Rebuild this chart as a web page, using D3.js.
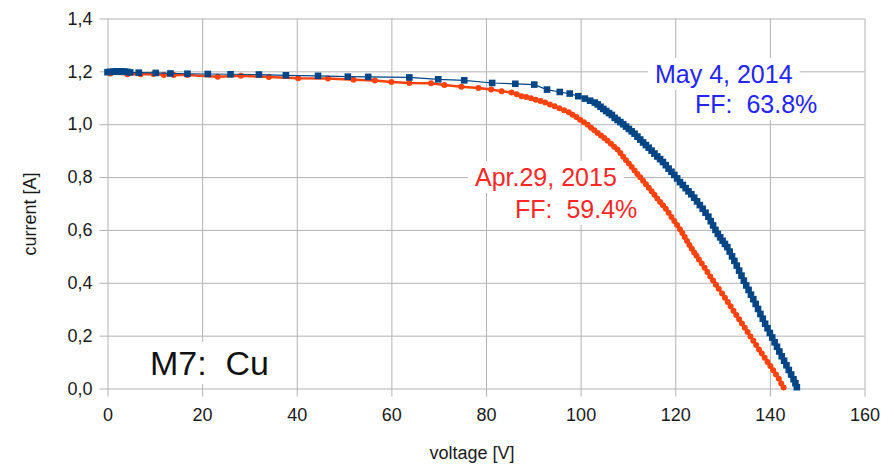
<!DOCTYPE html>
<html>
<head>
<meta charset="utf-8">
<script src="https://cdn.jsdelivr.net/npm/d3@7"></script>
<style>
  body { margin: 0; background: #fff; }
  text { font-family: "Liberation Sans", Arial, sans-serif; }
</style>
</head>
<body>
<svg id="chart" width="894" height="465"></svg>
<script>
'use strict';

// I-V curve, measured May 4, 2014  [voltage V, current A]
var may2014 = [
  [0.0,1.197],[0.6,1.198],[1.2,1.199],[1.8,1.200],[2.4,1.200],[3.0,1.200],[3.6,1.199],[4.2,1.198],
  [4.8,1.196],[6.6,1.195],[10.2,1.194],[13.3,1.192],[16.9,1.191],[21.2,1.190],[26.0,1.189],[32.0,1.188],
  [37.7,1.185],[44.5,1.183],[50.8,1.180],[55.1,1.179],[63.8,1.177],[69.9,1.170],[75.4,1.166],[81.3,1.156],
  [86.2,1.153],[90.2,1.150],[92.9,1.131],[95.6,1.122],[97.7,1.116],[99.5,1.106],[100.9,1.097],[102.0,1.089],
  [103.0,1.082],[103.6,1.075],[104.2,1.066],[104.8,1.058],[105.4,1.050],[106.0,1.042],[106.6,1.035],[107.2,1.024],
  [107.8,1.016],[108.4,1.008],[109.0,1.000],[109.6,0.991],[110.2,0.982],[110.8,0.973],[111.4,0.964],[112.0,0.953],
  [112.6,0.942],[113.2,0.931],[113.8,0.921],[114.4,0.911],[115.0,0.900],[115.6,0.889],[116.2,0.878],[116.8,0.868],
  [117.4,0.857],[118.0,0.845],[118.6,0.832],[119.2,0.820],[119.8,0.808],[120.4,0.795],[121.0,0.781],[121.6,0.770],
  [122.2,0.758],[122.8,0.746],[123.4,0.735],[124.0,0.722],[124.6,0.708],[125.2,0.694],[125.8,0.680],[126.4,0.665],
  [127.0,0.650],[127.5,0.633],[128.0,0.617],[128.5,0.600],[129.0,0.585],[129.5,0.572],[130.0,0.559],[130.5,0.547],
  [131.0,0.535],[131.5,0.518],[132.0,0.500],[132.5,0.483],[133.0,0.465],[133.5,0.446],[134.0,0.427],[134.5,0.408],
  [135.0,0.390],[135.5,0.373],[136.0,0.355],[136.5,0.338],[137.0,0.320],[137.5,0.301],[138.0,0.282],[138.5,0.264],
  [139.0,0.245],[139.5,0.228],[140.0,0.210],[140.5,0.193],[141.0,0.175],[141.5,0.158],[142.0,0.140],[142.5,0.122],
  [143.0,0.105],[143.5,0.088],[144.0,0.070],[144.5,0.053],[145.0,0.035],[145.4,0.020],[145.7,0.005]
]

// I-V curve, measured Apr.29, 2015
var apr2015 = [
  [0.6,1.192],[4.2,1.189],[7.0,1.189],[9.7,1.190],[11.9,1.186],[14.0,1.186],[16.9,1.186],[23.3,1.180],
  [28.2,1.183],[34.1,1.179],[40.3,1.174],[46.6,1.173],[52.0,1.168],[56.5,1.165],[60.0,1.160],[63.8,1.156],
  [68.4,1.155],[71.2,1.148],[74.8,1.142],[78.4,1.137],[81.1,1.131],[83.3,1.125],[85.4,1.120],[86.5,1.113],
  [87.5,1.106],[88.5,1.103],[89.5,1.098],[90.5,1.093],[91.5,1.088],[92.5,1.082],[93.5,1.075],[94.5,1.068],
  [95.5,1.060],[96.5,1.053],[97.5,1.045],[98.3,1.036],[99.1,1.027],[99.9,1.017],[100.7,1.007],[101.5,0.998],
  [102.2,0.987],[102.9,0.977],[103.6,0.967],[104.3,0.957],[105.0,0.948],[105.7,0.937],[106.4,0.926],[107.1,0.915],
  [107.8,0.904],[108.4,0.891],[109.0,0.877],[109.6,0.864],[110.2,0.851],[110.8,0.838],[111.4,0.825],[112.0,0.812],
  [112.6,0.799],[113.2,0.786],[113.8,0.773],[114.4,0.760],[115.0,0.746],[115.6,0.733],[116.2,0.719],[116.8,0.706],
  [117.4,0.693],[118.0,0.680],[118.6,0.665],[119.2,0.649],[119.8,0.634],[120.4,0.619],[121.0,0.603],[121.5,0.588],
  [122.0,0.573],[122.5,0.558],[123.0,0.543],[123.5,0.529],[124.0,0.515],[124.5,0.502],[125.0,0.488],[125.6,0.473],
  [126.2,0.457],[126.8,0.441],[127.4,0.424],[128.0,0.409],[128.6,0.393],[129.2,0.377],[129.9,0.359],[130.5,0.343],
  [131.1,0.327],[131.7,0.311],[132.3,0.294],[132.9,0.278],[133.5,0.262],[134.1,0.246],[134.7,0.230],[135.3,0.214],
  [135.9,0.197],[136.5,0.181],[137.1,0.165],[137.7,0.148],[138.3,0.132],[138.9,0.116],[139.5,0.100],[140.1,0.085],
  [140.7,0.069],[141.3,0.053],[141.9,0.037],[142.4,0.019],[142.9,0.004]
]

var xTicks = [0, 20, 40, 60, 80, 100, 120, 140, 160]
var yTicks = [0, 0.2, 0.4, 0.6, 0.8, 1.0, 1.2, 1.4]

// text lines drawn on white boxes: [text, x, baseline, colour, size]
var notes = [
  ['May 4, 2014', 655, 83, '#2424ff', 25],
  ['FF:  63.8%', 695, 113, '#2424ff', 25],
  ['Apr.29, 2015', 475, 186, '#ff2626', 25],
  ['FF:  59.4%', 515, 218, '#ff2626', 25],
  ['M7:  Cu', 150, 375, '#111', 34]
]

var svg = d3.select('#chart')
,   plotLeft = 107.5, plotRight = 864.5, plotTop = 18.5, plotBottom = 388.5
,   plotW = plotRight - plotLeft, plotH = plotBottom - plotTop
,   x = d3.scaleLinear().domain([0, 160]).range([plotLeft, plotRight])
,   y = d3.scaleLinear().domain([0, 1.4]).range([plotBottom, plotTop])
,   comma = d3.formatLocale({decimal: ',', thousands: '.', grouping: [3], currency: ['', '']}).format('.1f')
,   gridColor = '#b3b3b3'

// grid + axes: tick lines span the plot and stick out 8px
var xAxis = svg.append('g')
  .attr('transform', 'translate(0,' + plotTop + ')')
  .call(d3.axisBottom(x).tickValues(xTicks).tickSize(plotH + 8).tickPadding(12).tickFormat(d3.format('d')))

var yAxis = svg.append('g')
  .attr('transform', 'translate(' + plotRight + ',0)')
  .call(d3.axisLeft(y).tickValues(yTicks).tickSize(plotW + 8).tickPadding(7).tickFormat(comma))

;[xAxis, yAxis].forEach(function(ax) {
  ax.select('.domain').remove()
  ax.selectAll('.tick line').attr('stroke', gridColor).attr('stroke-width', 1)
  ax.selectAll('.tick text')
    .attr('fill', '#1a1a1a')
    .style('font-family', '"Liberation Sans", Arial, sans-serif')
    .style('font-size', '18px')
})

// axis titles
svg.append('text')
  .attr('x', 472).attr('y', 459)
  .attr('text-anchor', 'middle')
  .attr('fill', '#1a1a1a')
  .style('font-size', '18px')
  .text('voltage [V]')

svg.append('text')
  .attr('transform', 'translate(36,214) rotate(-90)')
  .attr('text-anchor', 'middle')
  .attr('fill', '#1a1a1a')
  .style('font-size', '18px')
  .text('current [A]')

// annotation boxes (white fill hides the grid behind the text)
var noteGroup = svg.append('g')

notes.forEach(function(n) {
  var g = noteGroup.append('g')
  var rect = g.append('rect').attr('fill', '#fff')
  var t = g.append('text')
    .attr('x', n[1]).attr('y', n[2])
    .attr('fill', n[3])
    .style('font-size', n[4] + 'px')
    .style('white-space', 'pre')
    .text(n[0])
  var bb = t.node().getBBox()
  rect.attr('x', bb.x - 7).attr('y', bb.y - 2)
    .attr('width', bb.width + 14).attr('height', bb.height + 4)
})

// series
var line = d3.line().x((d) => x(d[0])).y((d) => y(d[1]))

svg.append('path')
  .datum(apr2015)
  .attr('d', line)
  .attr('fill', 'none')
  .attr('stroke', '#ff420e')
  .attr('stroke-width', 2.5)
  .attr('stroke-linejoin', 'round')

svg.append('g').selectAll('circle')
  .data(apr2015)
  .enter().append('circle')
  .attr('cx', (d) => x(d[0]))
  .attr('cy', (d) => y(d[1]))
  .attr('r', 3)
  .attr('fill', '#ff420e')

svg.append('path')
  .datum(may2014)
  .attr('d', line)
  .attr('fill', 'none')
  .attr('stroke', '#004586')
  .attr('stroke-width', 1.2)

svg.append('g').selectAll('rect')
  .data(may2014)
  .enter().append('rect')
  .attr('x', (d) => x(d[0]) - 3.3)
  .attr('y', (d) => y(d[1]) - 3.3)
  .attr('width', 6.6)
  .attr('height', 6.6)
  .attr('fill', '#004586')
</script>
</body>
</html>
